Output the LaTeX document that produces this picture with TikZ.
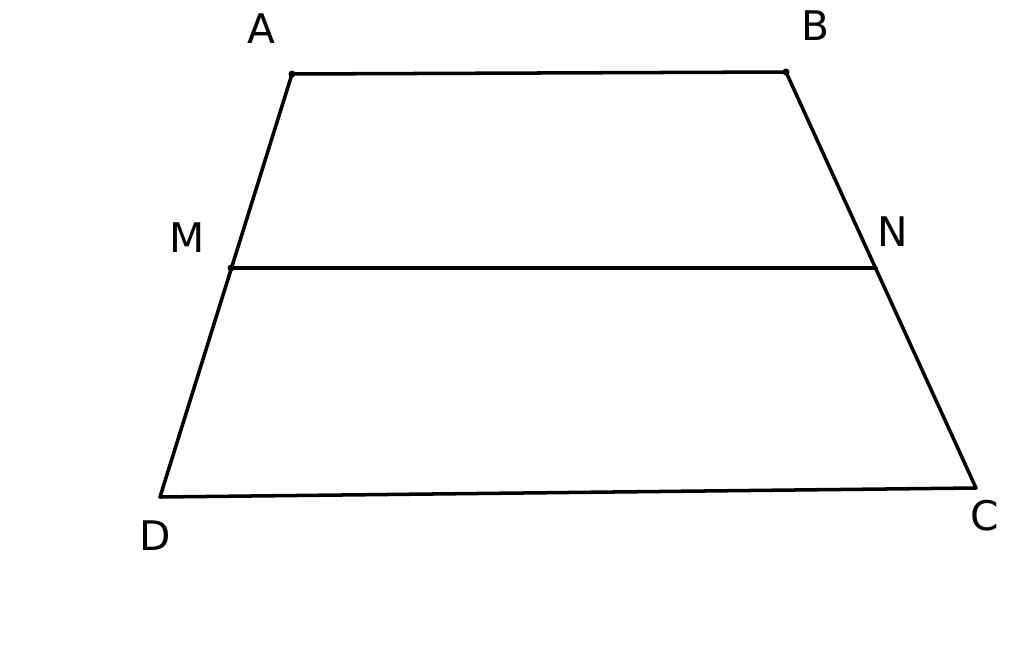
\documentclass[tikz,border=0pt]{standalone}
\usepackage{fontspec}
\setmainfont{DejaVu Sans}
\usetikzlibrary{positioning}

\begin{document}
\begin{tikzpicture}[x=0.025cm,y=-0.025cm,
  side/.style = {line width=2.5pt, line cap=round, line join=round},
  vertexlabel/.style = {font=\fontsize{29}{34}\selectfont, inner sep=0pt},
  dot/.style = {circle, fill=black, inner sep=0pt, minimum size=5pt}]
\useasboundingbox (0,0) rectangle (1024,644);
\coordinate (A) at (292,74);
\coordinate (B) at (786,72);
\coordinate (C) at (976,488);
\coordinate (D) at (160,497);
\coordinate (M) at (231,268);
\coordinate (N) at (876,268);
\draw[side] (A) -- (B) -- (C) -- (D) -- cycle;
\draw[side] (M) -- (N);
\node[dot] (dA) at (A) {};
\node[dot] (dB) at (B) {};
\node[dot] (dM) at (M) {};
\node[vertexlabel] (lA) at (261,29) {A};
\node[vertexlabel] (lB) at (815,26) {B};
\node[vertexlabel] (lM) at (187,238) {M};
\node[vertexlabel] (lN) at (893,232) {N};
\node[vertexlabel] (lC) at (985,516) {C};
\node[vertexlabel] (lD) at (155,536) {D};
\end{tikzpicture}
\end{document}
